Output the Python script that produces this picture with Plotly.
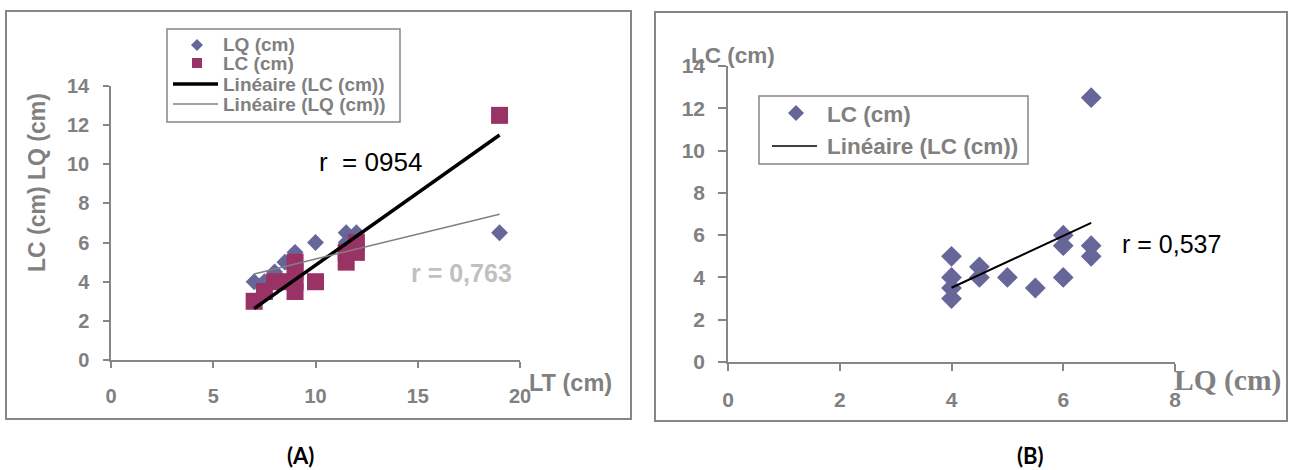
import numpy as np
import plotly.graph_objects as go

# Body measurements per specimen (cm)
LT = [7, 7.5, 8, 9, 9, 9, 10, 11.5, 12, 19, 12, 11.5, 8.5, 9]
LQ = [4, 4, 4.5, 5.5, 4, 4.5, 6, 6.5, 6.5, 6.5, 6, 6, 5, 4]
LC = [3, 3.5, 4, 3.5, 5, 4.5, 4, 5, 5.5, 12.5, 6, 5.5, 4, 4]

# Correlation labels
r_lt_lc = "r  = 0954"
r_lt_lq = "r = 0,763"
r_lq_lc = "r = 0,537"

# Axis ticks
ticks_lt = [0, 5, 10, 15, 20]
ticks_lq = [0, 2, 4, 6, 8]
ticks_len = [0, 2, 4, 6, 8, 10, 12, 14]

W, H = 1294, 470
GRAY = "#868686"
TXT = "#808080"
BLUE = "#666699"
PLUM = "#993366"
SANS = "Liberation Sans"


def fx(px):
    return px / W


def fy(py):
    return 1 - py / H


def trend(x, y):
    slope, intercept = np.polyfit(x, y, 1)
    xs = np.array([min(x), max(x)])
    return xs, slope * xs + intercept


fig = go.Figure()

# Panel A: LQ and LC against LT
fig.add_trace(go.Scatter(x=LT, y=LQ, mode="markers", name="LQ (cm)",
                         marker=dict(symbol="diamond", size=13, color=BLUE),
                         xaxis="x", yaxis="y", cliponaxis=False))
fig.add_trace(go.Scatter(x=LT, y=LC, mode="markers", name="LC (cm)",
                         marker=dict(symbol="square", size=17, color=PLUM),
                         xaxis="x", yaxis="y", cliponaxis=False))
xs, ys = trend(LT, LC)
fig.add_trace(go.Scatter(x=xs, y=ys, mode="lines", name="Linéaire (LC (cm))",
                         line=dict(color="black", width=3.5), xaxis="x", yaxis="y"))
xs, ys = trend(LT, LQ)
fig.add_trace(go.Scatter(x=xs, y=ys, mode="lines", name="Linéaire (LQ (cm))",
                         line=dict(color="#808080", width=1.5), xaxis="x", yaxis="y"))

# Panel B: LC against LQ
fig.add_trace(go.Scatter(x=LQ, y=LC, mode="markers", name="LC (cm)",
                         marker=dict(symbol="diamond", size=16, color=BLUE),
                         xaxis="x2", yaxis="y2", cliponaxis=False))
xs, ys = trend(LQ, LC)
fig.add_trace(go.Scatter(x=xs, y=ys, mode="lines", name="Linéaire (LC (cm))",
                         line=dict(color="black", width=2), xaxis="x2", yaxis="y2"))

axis_common = dict(showline=True, linecolor=GRAY, linewidth=1.5, ticks="outside",
                   tickcolor=GRAY, tickwidth=1.5, showgrid=False, zeroline=False,
                   automargin=False,
                   tickfont=dict(family=SANS, color=TXT, weight="bold"))

fig.update_layout(
    template="none",
    width=W, height=H, margin=dict(l=0, r=0, t=0, b=0, pad=0, autoexpand=False),
    paper_bgcolor="white", plot_bgcolor="white", showlegend=False,
    xaxis=dict(axis_common, domain=[fx(111), fx(520)], range=[0, 20],
               tickvals=ticks_lt, ticklen=6, anchor="y", ticklabelstandoff=11,
               tickfont=dict(family=SANS, color=TXT, weight="bold", size=20)),
    yaxis=dict(axis_common, domain=[fy(360), fy(86)], range=[0, 14],
               tickvals=ticks_len, ticklen=6, anchor="x", ticklabelstandoff=10,
               tickfont=dict(family=SANS, color=TXT, weight="bold", size=20)),
    xaxis2=dict(axis_common, domain=[fx(728), fx(1175)], range=[0, 8],
                tickvals=ticks_lq, ticklen=7, anchor="y2", ticklabelstandoff=11,
                tickfont=dict(family=SANS, color=TXT, weight="bold", size=21)),
    yaxis2=dict(axis_common, domain=[fy(362), fy(66)], range=[0, 14],
                tickvals=ticks_len, ticklen=8, anchor="x2", ticklabelstandoff=9,
                tickfont=dict(family=SANS, color=TXT, weight="bold", size=21)),
)

shapes = []
annotations = []


def box(x0, y0, x1, y1, color, width):
    shapes.append(dict(type="rect", xref="paper", yref="paper",
                       x0=fx(x0), x1=fx(x1), y0=fy(y1), y1=fy(y0),
                       line=dict(color=color, width=width), fillcolor="rgba(0,0,0,0)"))


def text(px, py, s, size, color=TXT, weight="bold", family=SANS, xanchor="left",
         angle=0):
    annotations.append(dict(xref="paper", yref="paper", x=fx(px), y=fy(py),
                            text=s, showarrow=False, xanchor=xanchor, yanchor="middle",
                            textangle=angle,
                            font=dict(family=family, size=size, color=color,
                                      weight=weight)))


def diamond(cx, cy, half, color):
    pts = [(cx, cy - half), (cx + half, cy), (cx, cy + half), (cx - half, cy)]
    path = "M " + " L ".join(f"{fx(a)},{fy(b)}" for a, b in pts) + " Z"
    shapes.append(dict(type="path", xref="paper", yref="paper", path=path,
                       fillcolor=color, line=dict(width=0)))


def square(cx, cy, half, color):
    shapes.append(dict(type="rect", xref="paper", yref="paper",
                       x0=fx(cx - half), x1=fx(cx + half),
                       y0=fy(cy + half), y1=fy(cy - half),
                       fillcolor=color, line=dict(width=0)))


def hline(x0, x1, y, color, width):
    shapes.append(dict(type="line", xref="paper", yref="paper",
                       x0=fx(x0), x1=fx(x1), y0=fy(y), y1=fy(y),
                       line=dict(color=color, width=width)))


# Panel frames
box(6, 11, 631, 419, GRAY, 2)
box(655, 12, 1287, 421, GRAY, 2)

# Panel A legend
box(167, 29, 400, 122, GRAY, 1.5)
diamond(197, 45, 6, BLUE)
square(197, 63, 5, PLUM)
hline(173, 218, 84, "black", 3.5)
hline(173, 218, 104, "#808080", 1.5)
text(221, 45, "LQ (cm)", 19)
text(221, 64, "LC (cm)", 19)
text(221, 84, "Linéaire (LC (cm))", 19)
text(221, 104, "Linéaire (LQ (cm))", 19)

# Panel B legend
box(759, 96, 1028, 164, GRAY, 1.5)
diamond(796, 113, 8, BLUE)
hline(772, 817, 146, "black", 1.5)
text(825, 115, "LC (cm)", 22.5)
text(825, 146, "Linéaire (LC (cm))", 22.5)

# Axis titles
text(37, 183, "LC (cm) LQ (cm)", 23, xanchor="center", angle=-90)
text(527, 383, "LT (cm)", 23.5)
text(689, 55, "LC (cm)", 22.5)
text(1172, 380, "LQ (cm)", 29.5, family="Liberation Serif")

# Correlation labels
text(317, 162, r_lt_lc, 26, color="black", weight="normal")
text(409, 273, r_lt_lq, 25, color="#C0C0C0")
text(1120, 244, r_lq_lc, 25, color="black", weight="normal")

# Panel captions
text(300, 455, "(A)", 22, color="black", family="Lato", xanchor="center")
text(1030, 455, "(B)", 22, color="black", family="Lato", xanchor="center")

fig.update_layout(shapes=shapes, annotations=annotations)
fig.write_html("out.html")
